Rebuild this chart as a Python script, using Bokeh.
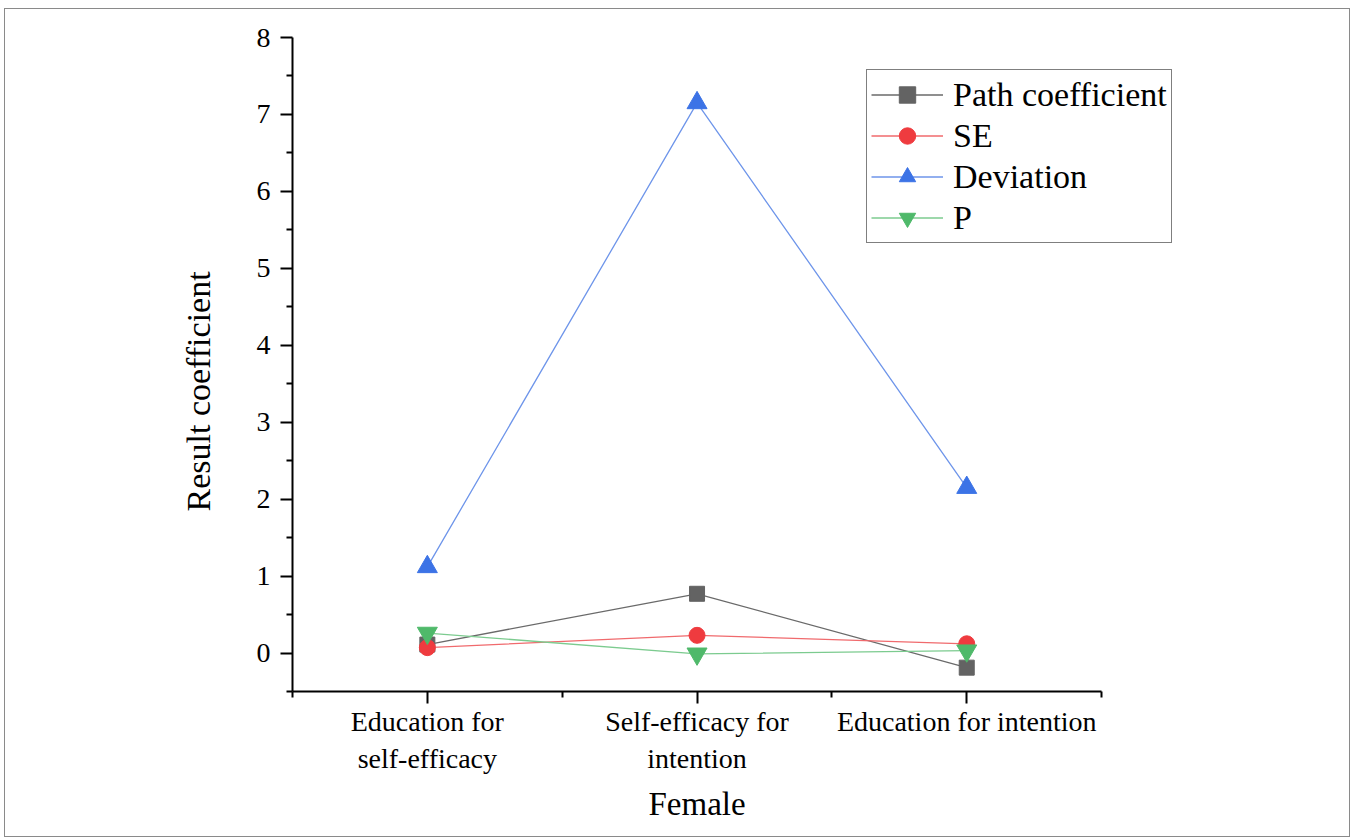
from bokeh.plotting import figure
from bokeh.models import FixedTicker, Range1d, Legend, LegendItem, Title
from bokeh.embed import file_html
from bokeh.resources import INLINE

categories = ["Education for\nself-efficacy", "Self-efficacy for\nintention", "Education for intention"]
x_pos = [1, 2, 3]
path_coef = [0.11, 0.77, -0.19]
se = [0.07, 0.23, 0.12]
deviation = [1.12, 7.15, 2.15]
p_vals = [0.26, -0.01, 0.03]
y_ticks = [0, 1, 2, 3, 4, 5, 6, 7, 8]
x_title = "Female"
y_title = "Result coefficient"

FONT = "Liberation Serif"

p = figure(width=1346, height=829, output_backend="svg", toolbar_location=None,
           x_range=Range1d(0.5, 3.8), y_range=Range1d(-0.5, 8))
p.min_border_left = 287
p.min_border_right = 169
p.min_border_top = 28
p.min_border_bottom = 147
p.outline_line_color = None
p.xgrid.visible = False
p.ygrid.visible = False
p.styles = {"border": "1.5px solid #8a8a8a", "box-sizing": "border-box",
            "margin-left": "4px", "margin-top": "8px"}

series = [
    ("Path coefficient", path_coef, "#636363", "#6a6a6a", "square", 15),
    ("SE", se, "#EF3B3F", "#F06A6D", "circle", 16),
    ("Deviation", deviation, "#3C73E6", "#6E95EA", "triangle", 20),
    ("P", p_vals, "#4FB96A", "#7CCB8F", "inverted_triangle", 20),
]
items = []
for name, vals, mcol, lcol, marker, size in series:
    r1 = p.line(x_pos, vals, line_color=lcol, line_width=1.3)
    r2 = p.scatter(x_pos, vals, marker=marker, size=size, fill_color=mcol, line_color=mcol)
    items.append(LegendItem(label=name, renderers=[r1, r2]))

legend = Legend(items=items, location=(574, 448))
legend.label_text_font = FONT
legend.label_text_font_size = "34px"
legend.label_text_color = "black"
legend.border_line_color = "black"
legend.border_line_width = 1
legend.glyph_width = 72
legend.glyph_height = 41
legend.label_height = 41
legend.spacing = 0
legend.padding = 4
legend.margin = 0
legend.label_standoff = 10
legend.background_fill_alpha = 1
p.add_layout(legend, "center")

for ax in (p.xaxis[0], p.yaxis[0]):
    ax.axis_line_width = 2
    ax.axis_line_color = "black"
    ax.major_tick_line_width = 2
    ax.minor_tick_line_width = 2
    ax.major_tick_in = 0
    ax.major_tick_out = 12
    ax.minor_tick_in = 0
    ax.minor_tick_out = 6
    ax.major_label_text_font = FONT
    ax.major_label_text_font_size = "28px"
    ax.major_label_text_color = "black"

p.xaxis.bounds = (0.5, 3.5)
p.xaxis.ticker = FixedTicker(ticks=x_pos, minor_ticks=[0.5, 1.5, 2.5, 3.5])
p.xaxis.major_label_overrides = {x: c for x, c in zip(x_pos, categories)}
p.xaxis.major_label_standoff = 2

p.yaxis.ticker = FixedTicker(ticks=y_ticks, minor_ticks=[v + 0.5 for v in range(-1, 8)])
p.yaxis.major_label_standoff = 10

xt = Title(text=x_title, align="left", offset=356, text_font=FONT, text_font_size="33px",
           text_font_style="normal", text_color="black", standoff=14)
p.add_layout(xt, "below")
yt = Title(text=y_title, align="left", offset=180, text_font=FONT, text_font_size="34px",
           text_font_style="normal", text_color="black", standoff=73)
p.add_layout(yt, "left")

open("out.html", "w").write(file_html(p, INLINE))
